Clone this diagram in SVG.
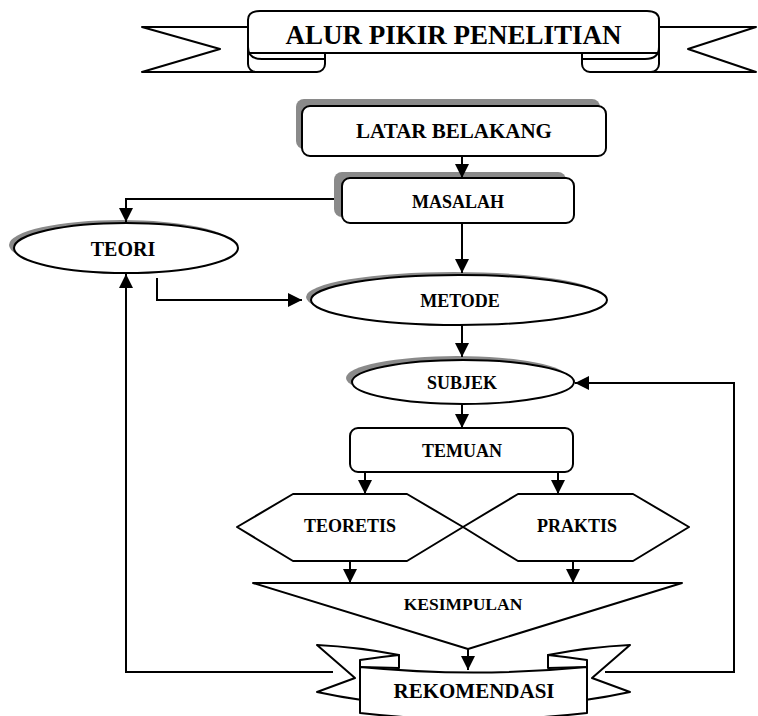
<svg xmlns="http://www.w3.org/2000/svg" width="758" height="716" viewBox="0 0 758 716">
<defs>
<marker id="ah" viewBox="0 0 14 14" refX="14" refY="7" markerWidth="14" markerHeight="14" markerUnits="userSpaceOnUse" orient="auto">
<path d="M0,0 L14,7 L0,14 Z" fill="#000"/>
</marker>
<style>
.s{fill:#fff;stroke:#000;stroke-width:2;stroke-linejoin:round}
.sh{fill:#8a8a8a;stroke:none}
.c{fill:none;stroke:#000;stroke-width:2}
.t{font-family:"Liberation Serif","Times New Roman",serif;font-weight:bold;fill:#000;text-anchor:middle}
</style>
</defs>
<rect width="758" height="716" fill="#fff"/>

<g id="title">
<polygon class="s" points="250,27 142,27 220,49 142,72 270,72"/>
<polygon class="s" points="657,27 756,27 688,49 756,72 640,72"/>
<rect class="s" x="248" y="40" width="77" height="32" rx="8"/>
<rect class="s" x="582" y="40" width="77" height="32" rx="8"/>
<path class="s" d="M248,53 L248,20 Q248,11 260,11 L647,11 Q659,11 659,20 L659,53 Z"/>
<path class="c" d="M248,47 Q248,59 262,59 L325,59"/>
<path class="c" d="M659,47 Q659,59 645,59 L582,59"/>
<text class="t" x="453.5" y="44" font-size="27">ALUR PIKIR PENELITIAN</text>
</g>

<g id="latar">
<rect class="sh" x="296" y="99" width="304" height="50" rx="8"/>
<rect class="s" x="302" y="106" width="304" height="50" rx="8"/>
<text class="t" x="454" y="138" font-size="21">LATAR BELAKANG</text>
</g>

<g id="masalah">
<rect class="sh" x="334" y="172" width="232" height="45" rx="8"/>
<rect class="s" x="342" y="178" width="232" height="45" rx="8"/>
<text class="t" x="458" y="208" font-size="18">MASALAH</text>
</g>

<g id="teori">
<ellipse class="sh" cx="121" cy="245" rx="112" ry="25"/>
<ellipse class="s" cx="126" cy="248" rx="112" ry="25"/>
<text class="t" x="123" y="256" font-size="20">TEORI</text>
</g>

<g id="metode">
<ellipse class="sh" cx="454" cy="297" rx="148" ry="25"/>
<ellipse class="s" cx="459" cy="300" rx="148" ry="25"/>
<text class="t" x="460" y="307" font-size="18">METODE</text>
</g>

<g id="subjek">
<ellipse class="sh" cx="457" cy="378" rx="111" ry="22"/>
<ellipse class="s" cx="463" cy="382" rx="111" ry="22"/>
<text class="t" x="462" y="389" font-size="18">SUBJEK</text>
</g>

<g id="temuan">
<rect class="s" x="350" y="428" width="223" height="44" rx="8"/>
<text class="t" x="462" y="457" font-size="18">TEMUAN</text>
</g>

<g id="teoretis">
<polygon class="s" points="237,527 293,494 407,494 463,527 407,561 293,561"/>
<text class="t" x="350" y="532" font-size="18">TEORETIS</text>
</g>

<g id="praktis">
<polygon class="s" points="463,527 518,494 633,494 689,527 633,561 518,561"/>
<text class="t" x="577" y="532" font-size="18">PRAKTIS</text>
</g>

<g id="kesimpulan">
<polygon class="s" points="253,583 682,583 468,649"/>
<text class="t" x="463" y="610" font-size="17.5">KESIMPULAN</text>
</g>

<g id="rekomendasi">
<path class="s" d="M399,655 Q358,647 317,645 L355,678 L317,692 Q340,697 362,700 L362,667 Z"/>
<path class="s" d="M548,655 Q589,647 630,645 L592,678 L630,692 Q607,697 585,700 L585,667 Z"/>
<path class="s" d="M360,667 L360,660 Q380,657 399,655 L399,668 Z"/>
<path class="s" d="M587,667 L587,660 Q567,657 548,655 L548,668 Z"/>
<path class="s" d="M360,667 Q473.5,678 587,667 L587,713 Q473.5,726 360,713 Z"/>
<text class="t" x="474" y="698" font-size="21">REKOMENDASI</text>
</g>

<g id="connectors">
<line class="c" x1="462" y1="156" x2="462" y2="178" marker-end="url(#ah)"/>
<polyline class="c" points="334,199 126,199 126,222" marker-end="url(#ah)"/>
<line class="c" x1="462" y1="223" x2="462" y2="273" marker-end="url(#ah)"/>
<polyline class="c" points="157,278 157,300 302,300" marker-end="url(#ah)"/>
<line class="c" x1="462" y1="325" x2="462" y2="357" marker-end="url(#ah)"/>
<line class="c" x1="462" y1="404" x2="462" y2="428" marker-end="url(#ah)"/>
<line class="c" x1="365" y1="472" x2="365" y2="494" marker-end="url(#ah)"/>
<line class="c" x1="558" y1="472" x2="558" y2="494" marker-end="url(#ah)"/>
<line class="c" x1="350" y1="561" x2="350" y2="583" marker-end="url(#ah)"/>
<line class="c" x1="573" y1="561" x2="573" y2="583" marker-end="url(#ah)"/>
<line class="c" x1="468" y1="649" x2="468" y2="670" marker-end="url(#ah)"/>
<polyline class="c" points="333,672 126,672 126,274" marker-end="url(#ah)"/>
<polyline class="c" points="605,672 734,672 734,383 575,383" marker-end="url(#ah)"/>
</g>
</svg>
